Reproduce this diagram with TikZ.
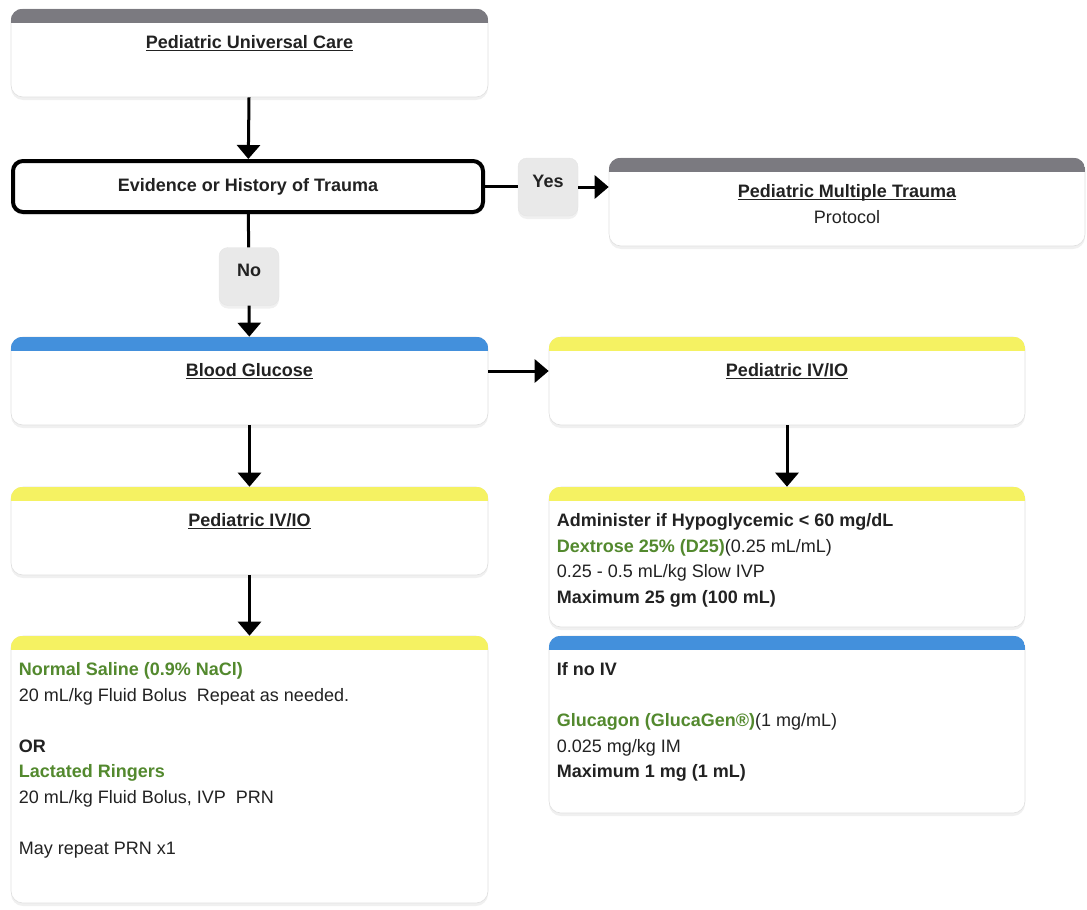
\documentclass[tikz,border=0pt]{standalone}
\usepackage{fontspec}
\setmainfont{Liberation Sans}
\usetikzlibrary{arrows.meta,shadows}
\definecolor{hdrgray}{HTML}{7B7A80}
\definecolor{hdrblue}{HTML}{4390DC}
\definecolor{hdryellow}{HTML}{F5F262}
\definecolor{lblgray}{HTML}{E9E9E9}
\definecolor{txtdark}{HTML}{222222}
\definecolor{drug}{HTML}{53892E}
\newcommand{\ttl}[1]{\underline{\smash{#1}}}
\newcommand{\drg}[1]{\textcolor{drug}{\textbf{#1}}}
\tikzset{
  card/.style={draw=black!12, line width=0.6pt, fill=white, rounded corners=12pt, inner sep=0pt,
    drop shadow={opacity=0.12, shadow xshift=0pt, shadow yshift=-3pt}},
  txt/.style={font=\fontsize{18}{25.5}\selectfont, text=txtdark, inner sep=0pt},
  btxt/.style={font=\fontsize{18}{25.5}\selectfont\bfseries, text=txtdark, inner sep=0pt},
  body/.style={txt, align=left, anchor=north west},
  lbl/.style={btxt, fill=lblgray, draw=black!10, rounded corners=9pt, minimum width=60pt, minimum height=58pt,
    drop shadow={opacity=0.12, shadow xshift=0pt, shadow yshift=-3pt}},
  flow/.style={line width=3pt, -{Triangle[width=23pt,length=14pt]}},
  link/.style={line width=3pt},
}
\begin{document}
\begin{tikzpicture}[x=1pt,y=-1pt]
\useasboundingbox (0,0) rectangle (1087,910);
% cards with coloured header strip
\foreach \n/\x/\y/\w/\h/\c in {ucare/249.5/53/477/88/hdrgray, trauma/847/202/476/88/hdrgray,
    gluc/249.5/381/477/88/hdrblue, ivr/787/381/476/88/hdryellow, ivl/249.5/531/477/88/hdryellow,
    fluid/249.5/769.5/477/267/hdryellow, dext/787/557/476/140/hdryellow, glucg/787/724.5/476/177/hdrblue}{
  \node[card, minimum width=\w pt, minimum height=\h pt] (\n) at (\x,\y) {};
  \begin{scope}
    \clip[rounded corners=12pt] (\n.south west) rectangle (\n.north east);
    \fill[\c] (\n.north west) rectangle ([yshift=-14pt]\n.north east);
  \end{scope}
}
% decision
\node[btxt, draw=black, line width=4pt, fill=white, rounded corners=10pt, minimum width=470pt, minimum height=51pt,
  drop shadow={opacity=0.12, shadow xshift=0pt, shadow yshift=-3pt}] (trauq) at (248,186.5) {\raisebox{3pt}{Evidence or History of Trauma}};
\node[lbl] (yes) at (548,187) {\raisebox{11pt}{Yes}};
\node[lbl] (no) at (249,276.5) {\raisebox{11.5pt}{No}};

% titles
\node[btxt, anchor=base] (ucaretx) at ([yshift=-40pt]ucare.north) {\ttl{Pediatric Universal Care}};
\node[btxt, anchor=base] (traumatx) at ([yshift=-40pt]trauma.north) {\ttl{Pediatric Multiple Trauma}};
\node[txt, anchor=base] (prottx) at ([yshift=-66pt]trauma.north) {Protocol};
\node[btxt, anchor=base] (gluctx) at ([yshift=-40pt]gluc.north) {\ttl{Blood Glucose}};
\node[btxt, anchor=base] (ivrtx) at ([yshift=-40pt]ivr.north) {\ttl{Pediatric IV/IO}};
\node[btxt, anchor=base] (ivltx) at ([yshift=-40pt]ivl.north) {\ttl{Pediatric IV/IO}};

% body texts
\node[body] (fluidtx) at ([xshift=8pt,yshift=-27pt]fluid.north west) {\drg{Normal Saline (0.9\% NaCl)}\\
  20 mL/kg Fluid Bolus\ \ Repeat as needed.\\[25.5pt]
  \textbf{OR}\\
  \drg{Lactated Ringers}\\
  20 mL/kg Fluid Bolus, IVP\ \ PRN\\[25.5pt]
  May repeat PRN x1};
\node[body] (dexttx) at ([xshift=8pt,yshift=-27pt]dext.north west) {\textbf{Administer if Hypoglycemic < 60 mg/dL}\\
  \drg{Dextrose 25\% (D25)}(0.25 mL/mL)\\
  0.25 - 0.5 mL/kg Slow IVP\\
  \textbf{Maximum 25 gm (100 mL)}};
\node[body] (glucgtx) at ([xshift=8pt,yshift=-27pt]glucg.north west) {\textbf{If no IV}\\[25.5pt]
  \drg{Glucagon (GlucaGen®)}(1 mg/mL)\\
  0.025 mg/kg IM\\
  \textbf{Maximum 1 mg (1 mL)}};

% connectors
\draw[flow] (ucare) -- (trauq);
\draw[link] (trauq.east) -- (trauq.east -| yes.west);
\draw[flow] (yes.east) -- (yes.east -| trauma.west);
\draw[link] (trauq) -- (no);
\draw[flow] (no) -- (gluc);
\draw[flow] ([yshift=10pt]gluc.east) -- ([yshift=10pt]ivr.west);
\draw[flow] (gluc) -- (ivl);
\draw[flow] (ivl) -- (fluid);
\draw[flow] (ivr) -- (dext);
\end{tikzpicture}
\end{document}
